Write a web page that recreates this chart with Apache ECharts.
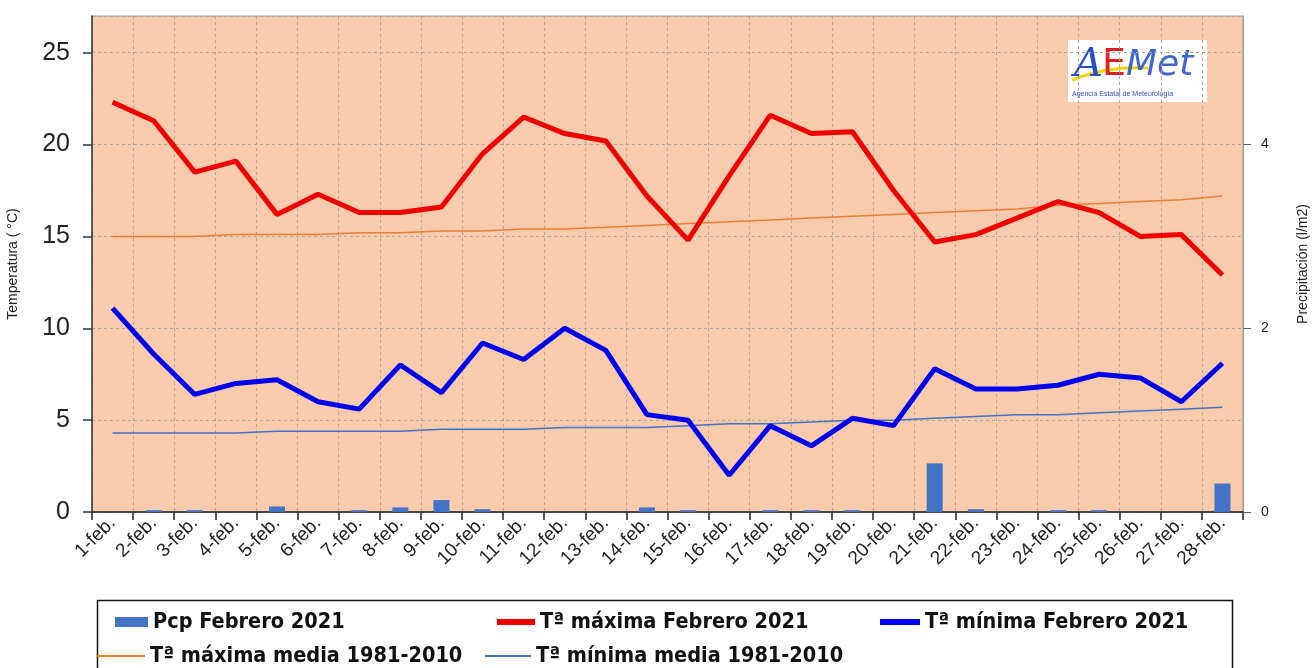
<!DOCTYPE html>
<html>
<head>
<meta charset="utf-8">
<script src="https://cdn.jsdelivr.net/npm/echarts@6/dist/echarts.min.js"></script>
<style>
html,body{margin:0;padding:0;background:#fff;}
#chart{width:1314px;height:668px;}
</style>
</head>
<body>
<div id="chart"></div>
<script>
const days = ['1-feb.','2-feb.','3-feb.','4-feb.','5-feb.','6-feb.','7-feb.','8-feb.','9-feb.','10-feb.','11-feb.','12-feb.','13-feb.','14-feb.','15-feb.','16-feb.','17-feb.','18-feb.','19-feb.','20-feb.','21-feb.','22-feb.','23-feb.','24-feb.','25-feb.','26-feb.','27-feb.','28-feb.'];
const pcp = [0, 0.02, 0.02, 0, 0.06, 0, 0.02, 0.05, 0.13, 0.03, 0, 0, 0, 0.05, 0.02, 0, 0.02, 0.02, 0.02, 0, 0.53, 0.03, 0, 0.02, 0.02, 0, 0, 0.31];
const tmax = [22.3, 21.3, 18.5, 19.1, 16.2, 17.3, 16.3, 16.3, 16.6, 19.5, 21.5, 20.6, 20.2, 17.2, 14.8, 18.3, 21.6, 20.6, 20.7, 17.5, 14.7, 15.1, 16.0, 16.9, 16.3, 15.0, 15.1, 12.9];
const tmin = [11.1, 8.6, 6.4, 7.0, 7.2, 6.0, 5.6, 8.0, 6.5, 9.2, 8.3, 10.0, 8.8, 5.3, 5.0, 2.0, 4.7, 3.6, 5.1, 4.7, 7.8, 6.7, 6.7, 6.9, 7.5, 7.3, 6.0, 8.1];
const tmaxMedia = [15.0, 15.0, 15.0, 15.1, 15.1, 15.1, 15.2, 15.2, 15.3, 15.3, 15.4, 15.4, 15.5, 15.6, 15.7, 15.8, 15.9, 16.0, 16.1, 16.2, 16.3, 16.4, 16.5, 16.7, 16.8, 16.9, 17.0, 17.2];
const tminMedia = [4.3, 4.3, 4.3, 4.3, 4.4, 4.4, 4.4, 4.4, 4.5, 4.5, 4.5, 4.6, 4.6, 4.6, 4.7, 4.8, 4.8, 4.9, 5.0, 5.0, 5.1, 5.2, 5.3, 5.3, 5.4, 5.5, 5.6, 5.7];
const tempTicks = [0, 5, 10, 15, 20, 25];
const pcpTicks = [0, 2, 4];

const names = {
  pcp: 'Pcp Febrero 2021',
  tmax: 'Tª máxima Febrero 2021',
  tmin: 'Tª mínima Febrero 2021',
  tmaxM: 'Tª máxima media 1981-2010',
  tminM: 'Tª mínima media 1981-2010'
};

const FONT = 'Liberation Sans, Arial, sans-serif';
const LFONT = '"DejaVu Sans Condensed", "Liberation Sans Narrow", "Arial Narrow", sans-serif';
const legendText = {fontFamily: LFONT, fontSize: 21.5, fontWeight: 'bold', color: '#111'};

const chart = echarts.init(document.getElementById('chart'), null, {renderer: 'canvas'});
chart.setOption({
  backgroundColor: '#ffffff',
  animation: false,
  grid: {left: 92, right: 71, top: 16, bottom: 156, show: true, backgroundColor: '#F8CBAD', borderColor: '#9a9a9a', borderWidth: 1, containLabel: false, outerBoundsMode: 'none'},
  xAxis: {
    type: 'category', data: days, boundaryGap: true,
    axisLine: {lineStyle: {color: '#222', width: 1.5}},
    axisTick: {show: true, inside: false, length: 8, lineStyle: {color: '#222', width: 1.5}},
    axisLabel: {rotate: 45, interval: 0, margin: 8, fontFamily: FONT, fontSize: 19, color: '#222'},
    splitLine: {show: true, interval: 0, lineStyle: {color: '#b3a69c', type: [3, 3], width: 1}}
  },
  yAxis: [
    {
      type: 'value', min: 0, max: 27, interval: 5,
      name: 'Temperatura ( °C)', nameLocation: 'middle', nameGap: 72, nameRotate: 90,
      nameTextStyle: {fontFamily: FONT, fontSize: 14, color: '#222'},
      axisLine: {show: true, lineStyle: {color: '#333', width: 1.5}},
      axisTick: {show: true, length: 9, lineStyle: {color: '#333', width: 1.5}},
      axisLabel: {margin: 22, fontFamily: FONT, fontSize: 25, color: '#222', showMaxLabel: false,
        formatter: v => tempTicks.includes(v) ? String(v) : ''},
      splitLine: {show: true, lineStyle: {color: '#b3a69c', type: [3, 3], width: 1}}
    },
    {
      type: 'value', min: 0, max: 5.4, interval: 2, position: 'right',
      name: 'Precipitación (l/m2)', nameLocation: 'middle', nameGap: 53, nameRotate: 90,
      nameTextStyle: {fontFamily: FONT, fontSize: 14, color: '#222'},
      axisLine: {show: true, lineStyle: {color: '#9a9a9a', width: 1}},
      axisTick: {show: true, length: 8, lineStyle: {color: '#666', width: 1}},
      axisLabel: {margin: 18, fontFamily: FONT, fontSize: 14, color: '#222', showMaxLabel: false,
        formatter: v => pcpTicks.includes(v) ? String(v) : ''},
      splitLine: {show: false}
    }
  ],
  legend: [
    {data: [names.pcp], left: 115, top: 611, icon: 'rect', itemWidth: 33, itemHeight: 10, textStyle: legendText, padding: 0, itemGap: 0, selectedMode: false},
    {data: [names.tmax], left: 497, top: 611, icon: 'rect', itemWidth: 38, itemHeight: 6, textStyle: legendText, padding: 0, selectedMode: false},
    {data: [names.tmin], left: 880, top: 611, icon: 'rect', itemWidth: 40, itemHeight: 6, textStyle: legendText, padding: 0, selectedMode: false},
    {data: [names.tmaxM], left: 97, top: 645, icon: 'rect', itemWidth: 48, itemHeight: 2, textStyle: legendText, padding: 0, selectedMode: false},
    {data: [names.tminM], left: 485, top: 645, icon: 'rect', itemWidth: 46, itemHeight: 2, textStyle: legendText, padding: 0, selectedMode: false}
  ],
  graphic: [
    {type: 'rect', left: 95, top: 598, shape: {width: 1135, height: 80}, style: {fill: 'none', stroke: '#111', lineWidth: 1.5}, z: 0},
    {type: 'group', left: 1068, top: 40, children: [
      {type: 'rect', shape: {x: 0, y: 0, width: 139, height: 62}, style: {fill: '#ffffff'}},
      {type: 'polyline', shape: {points: [[4, 40], [40, 30], [80, 28]], smooth: 0.5}, style: {stroke: '#F2D400', lineWidth: 3, fill: 'none'}},
      {type: 'text', x: 6, y: 6, style: {text: 'A', font: 'italic 40px "DejaVu Serif", serif', fill: '#2850C8'}},
      {type: 'text', x: 34, y: 6, style: {text: 'E', font: '38px "DejaVu Sans", sans-serif', fill: '#E02020'}},
      {type: 'text', x: 58, y: 8, style: {text: 'Met', font: 'italic 36px "DejaVu Sans", sans-serif', fill: '#3C64D2'}},
      {type: 'text', x: 4, y: 51, style: {text: 'Agencia Estatal de Meteorología', font: '7px "Liberation Sans Narrow", sans-serif', fill: '#3050B8'}}
    ]}
  ],
  series: [
    {name: names.pcp, type: 'bar', yAxisIndex: 1, data: pcp, barWidth: 16, itemStyle: {color: '#4472C4'}, z: 2},
    {name: names.tmax, type: 'line', data: tmax, showSymbol: false, symbol: 'none', lineStyle: {color: '#F00000', width: 5}, itemStyle: {color: '#F00000'}, z: 5},
    {name: names.tmin, type: 'line', data: tmin, showSymbol: false, symbol: 'none', lineStyle: {color: '#0000F0', width: 5}, itemStyle: {color: '#0000F0'}, z: 5},
    {name: names.tmaxM, type: 'line', data: tmaxMedia, showSymbol: false, symbol: 'none', lineStyle: {color: '#ED7D31', width: 1.5}, itemStyle: {color: '#ED7D31'}, z: 4},
    {name: names.tminM, type: 'line', data: tminMedia, showSymbol: false, symbol: 'none', lineStyle: {color: '#4472C4', width: 1.5}, itemStyle: {color: '#4472C4'}, z: 4}
  ]
});
</script>
</body>
</html>
